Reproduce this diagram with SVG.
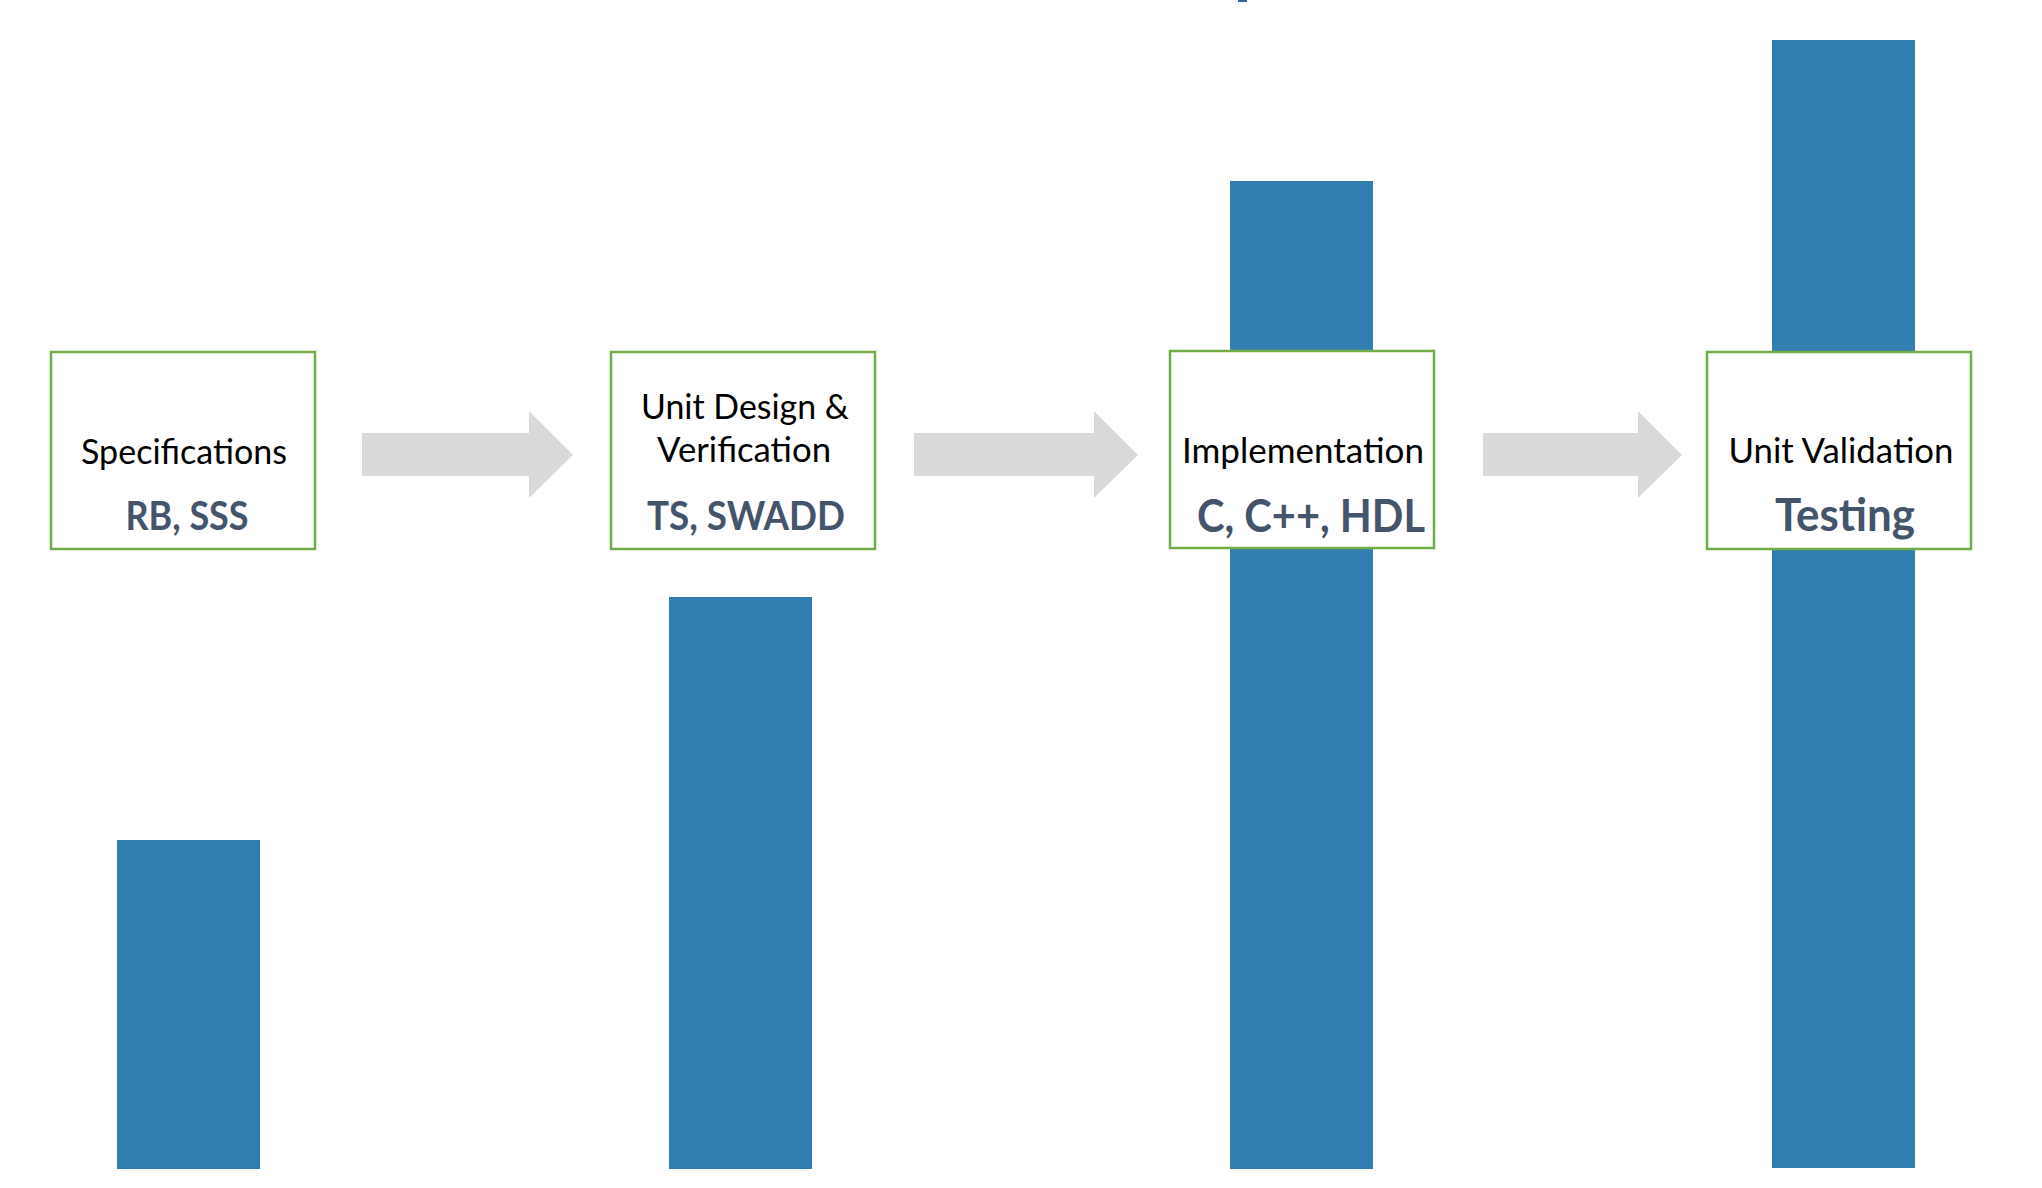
<svg xmlns="http://www.w3.org/2000/svg" width="2042" height="1188" viewBox="0 0 2042 1188">
<style>
.bar{fill:#337eb0}
.box{fill:#ffffff;stroke:#70ad47;stroke-width:2.5}
.arrow{fill:#d9d9d9}
.t{font-family:Lato,"Open Sans",sans-serif;font-size:35px;fill:#000000;text-anchor:middle}
.b{font-family:Lato,"Open Sans",sans-serif;font-weight:bold;fill:#44546a;text-anchor:middle}
</style>
<rect x="0" y="0" width="2042" height="1188" fill="#ffffff"/>
<rect x="1238" y="0" width="9" height="2" fill="#2f6496"/>
<g id="bars">
<rect class="bar" x="117" y="840" width="143" height="329"/>
<rect class="bar" x="669" y="597" width="143" height="572"/>
<rect class="bar" x="1230" y="181" width="143" height="988"/>
<rect class="bar" x="1772" y="40" width="143" height="1128"/>
</g>
<g id="connectors">
<polygon class="arrow" points="362,433 529,433 529,411 573,455 529,498 529,476 362,476"/>
<polygon class="arrow" points="914,433 1094,433 1094,411 1138,455 1094,498 1094,476 914,476"/>
<polygon class="arrow" points="1483,433 1638,433 1638,411 1682,455 1638,498 1638,476 1483,476"/>
</g>
<g id="node-specifications">
<rect class="box" x="51" y="352" width="264" height="197"/>
<text class="t" x="184" y="464" textLength="206" lengthAdjust="spacingAndGlyphs">Specifications</text>
<text class="b" x="187" y="530" font-size="40" textLength="123" lengthAdjust="spacingAndGlyphs">RB, SSS</text>
</g>
<g id="node-unit-design">
<rect class="box" x="611" y="352" width="264" height="197"/>
<text class="t" x="745" y="419" textLength="208" lengthAdjust="spacingAndGlyphs">Unit Design &amp;</text>
<text class="t" x="744" y="462" textLength="174" lengthAdjust="spacingAndGlyphs">Verification</text>
<text class="b" x="746" y="530" font-size="40" textLength="198" lengthAdjust="spacingAndGlyphs">TS, SWADD</text>
</g>
<g id="node-implementation">
<rect class="box" x="1170" y="351" width="264" height="197"/>
<text class="t" x="1303" y="463" textLength="242" lengthAdjust="spacingAndGlyphs">Implementation</text>
<text class="b" x="1311" y="532" font-size="45" textLength="228" lengthAdjust="spacingAndGlyphs">C, C++, HDL</text>
</g>
<g id="node-unit-validation">
<rect class="box" x="1707" y="352" width="264" height="197"/>
<text class="t" x="1841" y="463" textLength="225" lengthAdjust="spacingAndGlyphs">Unit Validation</text>
<text class="b" x="1845" y="531" font-size="45" textLength="140" lengthAdjust="spacingAndGlyphs">Testing</text>
</g>
</svg>
